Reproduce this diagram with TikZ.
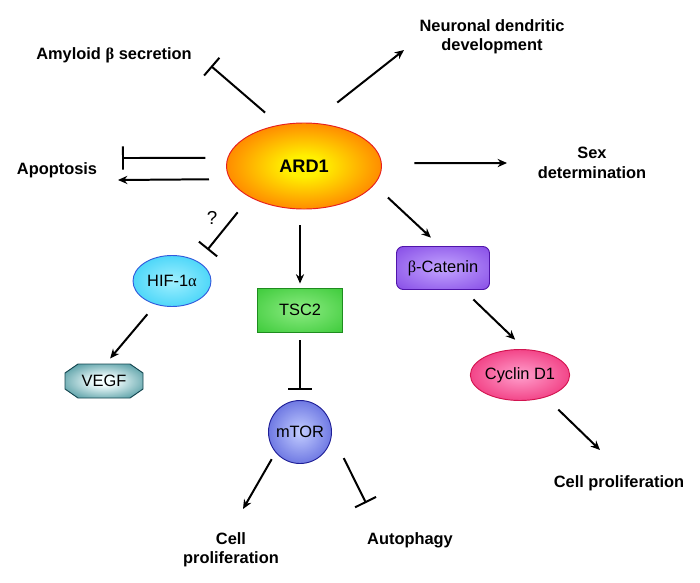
\documentclass[tikz,border=0pt]{standalone}
\usepackage{fontspec}
\setmainfont{Liberation Sans}
\newfontfamily\grk{Liberation Serif}
\usepackage{tikz}
\usetikzlibrary{arrows.meta,shapes.geometric}
\definecolor{ardIn}{RGB}{255,240,0}
\definecolor{ardMid}{RGB}{255,135,0}
\definecolor{ardOut}{RGB}{245,85,10}
\definecolor{ardLine}{RGB}{230,30,30}
\definecolor{hifIn}{RGB}{160,240,255}
\definecolor{hifOut}{RGB}{30,200,245}
\definecolor{hifLine}{RGB}{50,90,220}
\definecolor{vegfIn}{RGB}{245,255,255}
\definecolor{vegfOut}{RGB}{25,120,130}
\definecolor{vegfLine}{RGB}{20,70,80}
\definecolor{tscIn}{RGB}{140,235,130}
\definecolor{tscOut}{RGB}{30,190,30}
\definecolor{tscLine}{RGB}{30,140,30}
\definecolor{catIn}{RGB}{195,165,255}
\definecolor{catOut}{RGB}{110,40,220}
\definecolor{catLine}{RGB}{80,20,170}
\definecolor{cycIn}{RGB}{255,160,205}
\definecolor{cycOut}{RGB}{235,15,95}
\definecolor{cycLine}{RGB}{210,20,80}
\definecolor{mtorIn}{RGB}{195,205,255}
\definecolor{mtorOut}{RGB}{45,55,205}
\definecolor{mtorLine}{RGB}{30,30,150}
\pgfdeclareradialshading{ardShade}{\pgfpoint{0bp}{0bp}}{color(0bp)=(ardIn); color(6bp)=(ardIn); color(26bp)=(ardMid); color(50bp)=(ardOut)}
\pgfdeclareradialshading{hifShade}{\pgfpoint{0bp}{0bp}}{color(0bp)=(hifIn); color(40bp)=(hifOut); color(50bp)=(hifOut)}
\pgfdeclareradialshading{vegfShade}{\pgfpoint{0bp}{0bp}}{color(0bp)=(vegfIn); color(6bp)=(vegfIn); color(40bp)=(vegfOut); color(50bp)=(vegfOut)}
\pgfdeclareradialshading{tscShade}{\pgfpoint{0bp}{0bp}}{color(0bp)=(tscIn); color(50bp)=(tscOut)}
\pgfdeclareradialshading{catShade}{\pgfpoint{0bp}{0bp}}{color(0bp)=(catIn); color(50bp)=(catOut)}
\pgfdeclareradialshading{cycShade}{\pgfpoint{0bp}{0bp}}{color(0bp)=(cycIn); color(40bp)=(cycOut); color(50bp)=(cycOut)}
\pgfdeclareradialshading{mtorShade}{\pgfpoint{0bp}{0bp}}{color(0bp)=(mtorIn); color(45bp)=(mtorOut); color(50bp)=(mtorOut)}
\tikzset{act/.style={draw, line width=1.7pt, -{Stealth[length=8pt,width=7pt]}}}
\tikzset{inh/.style={draw, line width=1.7pt, -{Bar[width=20pt]}}}
\tikzset{lbl/.style={font=\fontsize{14}{16.5}\selectfont\bfseries, align=center}}
\tikzset{pr/.style={draw, shade, line width=0.8pt, inner sep=0pt,
  font=\fontsize{14}{16}\selectfont}}

\begin{document}
\begin{tikzpicture}[x={(0.03cm,0)}, y={(0,-0.03cm)}]
        \useasboundingbox (0,0) rectangle (700,582);
        %% proteins
        \node (ard) at (304,166) [pr, ellipse, shading=ardShade, draw=ardLine,
          minimum width=4.65cm, minimum height=2.58cm,
          font=\fontsize{15.5}{18}\selectfont\bfseries] {ARD1};
        \node (hif) at (172,281) [pr, ellipse, shading=hifShade, draw=hifLine,
          minimum width=2.34cm, minimum height=1.53cm] {HIF-1{\grk α}};
        %% octagon behind VEGF
        \begin{scope}[shift={(104,381)}]
            \shade[shading=vegfShade, draw=vegfLine, line width=0.8pt]
              (-26,-17) -- (26,-17) -- (39,-8) -- (39,8) -- (26,17)
              -- (-26,17) -- (-39,8) -- (-39,-8) -- cycle;
        \end{scope}
        \node (vegf) at (104,381) [pr, draw=none, shade=false, rectangle,
          minimum width=2.34cm, minimum height=1.02cm] {VEGF};
        \node (tsc) at (300,310) [pr, rectangle, shading=tscShade, draw=tscLine,
          minimum width=2.55cm, minimum height=1.32cm] {TSC2};
        \node (mtor) at (300,432) [pr, circle, shading=mtorShade, draw=mtorLine,
          minimum size=1.89cm] {mTOR};
        \node (bcat) at (443,268) [pr, rectangle, rounded corners=0.2cm,
          shading=catShade, draw=catLine, minimum width=2.79cm,
          minimum height=1.29cm] {{\grk β}-Catenin};
        \node (cyc) at (520,375) [pr, ellipse, shading=cycShade, draw=cycLine,
          minimum width=2.82cm, minimum height=1.53cm] {Cyclin D1};
        %% outcomes
        \node (amy) at (114,55) [lbl] {Amyloid {\grk β} secretion};
        \node (neu) at (492,37) [lbl] {Neuronal dendritic\\development};
        \node (apo) at (57,170) [lbl] {Apoptosis};
        \node (sex) at (592,163) [lbl] {Sex\\determination};
        \node (qm) at (212,218) [font=\fontsize{16}{18}\selectfont] {?};
        \node (cpl) at (231,550) [lbl] {Cell\\proliferation};
        \node (aut) at (410,540) [lbl] {Autophagy};
        \node (cpr) at (619,483) [lbl] {Cell proliferation};
        \coordinate (amyE) at (211,66);
        \coordinate (neuE) at (404,50);
        \coordinate (apoI) at (122,158);
        \coordinate (apoA) at (118,180);
        \coordinate (sexE) at (507,163);
        \coordinate (cplE) at (243,509);
        \coordinate (autE) at (366,503);
        \coordinate (cprE) at (600,450);
        %% links
        \draw [inh, shorten <=0.56cm] (ard.121.4) to (amyE);
        \draw [act, shorten <=0.98cm] (ard.80.1) to (neuE);
        \draw [inh, shorten <=0.66cm] (ard.174) to (apoI);
        \draw [act, shorten <=0.62cm] (ard.190.8) to (apoA);
        \draw [act, shorten <=0.98cm] (ard.2.2) to (sexE);
        \draw [inh, shorten <=0.58cm, shorten >=0.45cm] (ard.210) to (hif.37.1);
        \draw [act, shorten <=0.38cm, shorten >=0.2cm] (hif.235.9) to (vegf.84);
        \draw [act, shorten <=0.48cm, shorten >=0.12cm] (ard.south -| tsc.north) to (tsc.north);
        \draw [inh, shorten <=0.24cm, shorten >=0.29cm] (tsc.south) to (mtor.north);
        \draw [act, shorten <=0.23cm] (mtor.220.1) to (cplE);
        \draw [inh, shorten <=0.8cm] (mtor.-4.2) to (autE);
        \draw [act, shorten <=0.56cm, shorten >=0.37cm] (ard.345.7) to (bcat.98.2);
        \draw [act, shorten <=0.41cm, shorten >=0.41cm] (bcat.313.4) to (cyc.79.1);
        \draw [act, shorten <=0.53cm] (cyc.319.5) to (cprE);
\end{tikzpicture}
\end{document}
